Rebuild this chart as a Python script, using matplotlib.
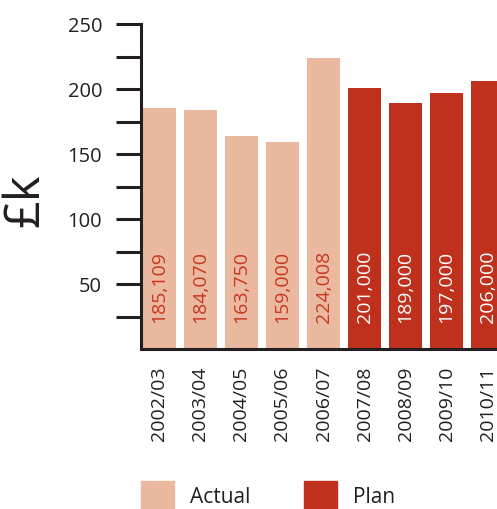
import matplotlib
matplotlib.use("Agg")
import matplotlib.pyplot as plt
from matplotlib.patches import Rectangle
from matplotlib.ticker import MultipleLocator

# Spending per year, £k (labels give exact £ figures)
years = ["2002/03", "2003/04", "2004/05", "2005/06", "2006/07",
         "2007/08", "2008/09", "2009/10", "2010/11"]
values = [185109, 184070, 163750, 159000, 224008,
          201000, 189000, 197000, 206000]
kind = ["Actual"] * 5 + ["Plan"] * 4

ACTUAL = "#ebb8a0"
PLAN = "#bf311c"
INK = "#231f20"
FONT = ["Open Sans", "DejaVu Sans"]

plt.rcParams["font.family"] = FONT

fig = plt.figure(figsize=(4.97, 5.10), dpi=100)
ax = fig.add_axes([141 / 497, 160 / 510, 356 / 497, 325 / 510])

xs = list(range(len(years)))
heights = [v / 1000 for v in values]
colors = [ACTUAL if k == "Actual" else PLAN for k in kind]
ax.bar(xs, heights, width=0.8, color=colors, zorder=1)

for x, v, k in zip(xs, values, kind):
    ax.text(x, 20.5, f"{v:,}", rotation=90, ha="center", va="bottom",
            fontsize=14, color="#c8361f" if k == "Actual" else "white",
            zorder=3)

ax.set_xlim(-0.45, 8.23)
ax.set_ylim(0, 250)
ax.set_yticks([50, 100, 150, 200, 250])
ax.set_yticks([25, 75, 125, 175, 225], minor=True)
ax.tick_params(axis="y", which="both", length=18, width=2.2, color=INK,
               labelsize=14.5, labelcolor=INK, pad=10)

ax.set_xticks(xs)
ax.set_xticklabels(years, rotation=90, fontsize=14, color=INK)
ax.tick_params(axis="x", length=0, pad=12)

for side in ("top", "right"):
    ax.spines[side].set_visible(False)
for side in ("left", "bottom"):
    ax.spines[side].set_linewidth(2.2)
    ax.spines[side].set_color(INK)
    ax.spines[side].set_zorder(4)

fig.text(26 / 497, 1 - 200 / 510, "£k", rotation=90, ha="center",
         va="center", fontsize=35, color=INK)

# Legend keys along the bottom edge
for x0, label, col in [(141, "Actual", ACTUAL), (304, "Plan", PLAN)]:
    fig.add_artist(Rectangle((x0 / 497, -5 / 510), 33 / 497, 33 / 510,
                             transform=fig.transFigure, color=col))
    fig.text((x0 + 49) / 497, 1 - 498 / 510, label, ha="left",
             va="center", fontsize=15, color=INK)

fig.savefig("out.png", dpi=100)
